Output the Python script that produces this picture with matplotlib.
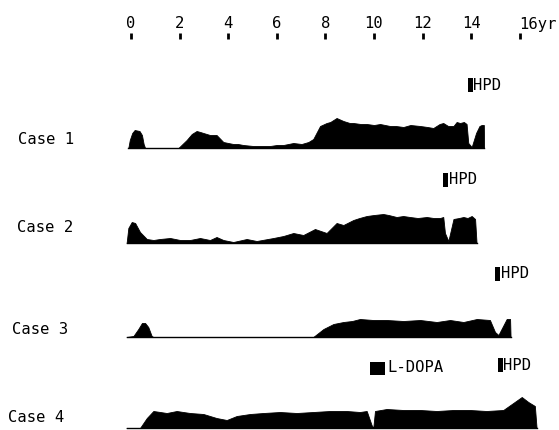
import matplotlib
matplotlib.use("Agg")
import matplotlib.pyplot as plt
import numpy as np

# ---- data (years on x, relative activity height) ----
tick_values = [0, 2, 4, 6, 8, 10, 12, 14, 16]
tick_labels = ["0", "2", "4", "6", "8", "10", "12", "14", "16"]
case_names = ["Case 1", "Case 2", "Case 3", "Case 4"]

case1_x = [-0.11, -0.05, 0.05, 0.15, 0.35, 0.45, 0.52, 0.58, 1.95, 2.29, 2.50, 2.70, 2.85,
           2.98, 3.25, 3.52, 3.80, 4.00, 4.21, 4.40, 4.62, 5.03, 5.40, 5.72, 6.00, 6.27,
           6.68, 7.02, 7.30, 7.50, 7.78, 8.05, 8.20, 8.46, 8.74, 9.00, 9.15, 9.45, 9.70,
           10.00, 10.25, 10.66, 10.90, 11.21, 11.50, 11.90, 12.20, 12.44, 12.70, 12.85,
           13.05, 13.27, 13.40, 13.54, 13.70, 13.81, 13.88, 14.02, 14.20, 14.34, 14.43,
           14.52, 14.53]
case1_y = [0, 8, 15, 18, 17, 13, 4, 0, 0, 8, 14, 17, 16,
           15, 13, 13, 6, 5, 4, 4, 3, 2, 2, 2, 3, 3,
           5, 4, 6, 9, 22, 25, 26, 30, 27, 25, 25, 24, 24,
           23, 24, 22, 22, 21, 23, 22, 21, 20, 24, 25,
           22, 22, 26, 25, 26, 24, 5, 1, 15, 22, 23,
           23, 0]

case2_x = [-0.18, -0.11, 0.03, 0.17, 0.37, 0.65, 0.92, 1.19, 1.61, 2.02, 2.43, 2.84, 3.25,
           3.52, 3.80, 4.21, 4.76, 5.17, 5.86, 6.27, 6.68, 7.09, 7.57, 8.05, 8.46, 8.74,
           9.15, 9.40, 9.70, 10.00, 10.38, 10.60, 10.93, 11.20, 11.48, 11.80, 12.17,
           12.45, 12.72, 12.85, 12.92, 13.06, 13.27, 13.50, 13.68, 13.85, 14.02, 14.16,
           14.22]
case2_y = [0, 15, 21, 20, 11, 4, 3, 4, 5, 3, 3, 5, 3,
           6, 3, 1, 4, 2, 5, 7, 10, 8, 14, 10, 20, 18,
           23, 25, 27, 28, 29, 28, 26, 27, 26, 25, 26,
           25, 25, 26, 10, 2, 24, 25, 26, 25, 27, 24,
           0]

case3_x = [-0.18, 0.10, 0.30, 0.45, 0.58, 0.71, 0.85, 0.92, 7.50, 7.92, 8.33, 8.74, 9.10,
           9.42, 9.97, 10.52, 11.21, 11.90, 12.58, 13.13, 13.68, 14.23, 14.77, 14.98,
           15.12, 15.46, 15.60, 15.62]
case3_y = [0, 1, 8, 14, 14, 10, 1, 0, 0, 8, 13, 15, 16,
           18, 17, 17, 16, 17, 15, 17, 15, 18, 17, 5,
           2, 18, 18, 0]

case4_x = [-0.18, 0.37, 0.65, 0.92, 1.20, 1.47, 1.88, 2.15, 2.43, 2.98, 3.52, 3.94, 4.35,
           4.90, 5.45, 6.13, 6.82, 7.50, 8.19, 8.87, 9.42, 9.70, 9.90, 9.97, 10.04, 10.52,
           11.21, 11.90, 12.58, 13.27, 13.95, 14.63, 15.32, 15.73, 16.08, 16.35, 16.62,
           16.69]
case4_y = [0, 0, 10, 17, 16, 15, 17, 16, 15, 14, 10, 8, 12,
           14, 15, 16, 15, 16, 17, 17, 16, 17, 3, 0, 17, 19,
           18, 18, 17, 18, 18, 17, 18, 25, 31, 26, 22,
           0]

# treatment markers
hpd_start = [13.87, 12.84, 14.98, 15.10]
hpd_end = [14.07, 13.05, 15.19, 15.30]
ldopa_case = 3
ldopa_start = 9.84
ldopa_end = 10.45

# ---- layout ----
W, H = 559, 430
PX0, PXYR = 131.0, 24.3
def px_to_yr(px):
    return (px - PX0) / PXYR

baselines = [148, 243, 337, 428]
label_px = [18, 17, 12, 8]
label_off = [8, 15, 7, 10]

fig = plt.figure(figsize=(W / 100, H / 100), dpi=100)
ax = fig.add_axes([0, 0, 1, 1])
ax.set_xlim(px_to_yr(0), px_to_yr(W))
ax.set_ylim(H, 0)
ax.axis("off")

font = dict(family="DejaVu Sans Mono", fontsize=11.2, color="black")

# top scale
for v, lab in zip(tick_values, tick_labels):
    if v == 16:
        ax.text(v - 0.02, 24, lab + "yr", ha="left", va="center", **font)
    else:
        ax.text(v, 24, lab, ha="center", va="center", **font)
    ax.plot([v, v], [33, 39], color="black", lw=2, solid_capstyle="butt")

series = [(case1_x, case1_y), (case2_x, case2_y), (case3_x, case3_y), (case4_x, case4_y)]
for i, ((xs, ys), name) in enumerate(zip(series, case_names)):
    b = baselines[i]
    xs = np.asarray(xs)
    ys = np.asarray(ys)
    ax.fill_between(xs, b - ys, b, color="black", lw=0.6, edgecolor="black")
    ax.plot([xs[0], xs[-1]], [b, b], color="black", lw=1)
    ax.text(px_to_yr(label_px[i]), b - label_off[i], name, ha="left", va="center", **font)
    # HPD marker
    ax.fill_between([hpd_start[i], hpd_end[i]], b - 70, b - 56, color="black", lw=0)
    ax.text(hpd_end[i] + 0.02, b - 63, "HPD", ha="left", va="center", **font)

b = baselines[ldopa_case]
ax.fill_between([ldopa_start, ldopa_end], b - 66, b - 53, color="black", lw=0)
ax.text(ldopa_end + 0.08, b - 60, "L-DOPA", ha="left", va="center", **font)

fig.savefig("out.png", dpi=100)
